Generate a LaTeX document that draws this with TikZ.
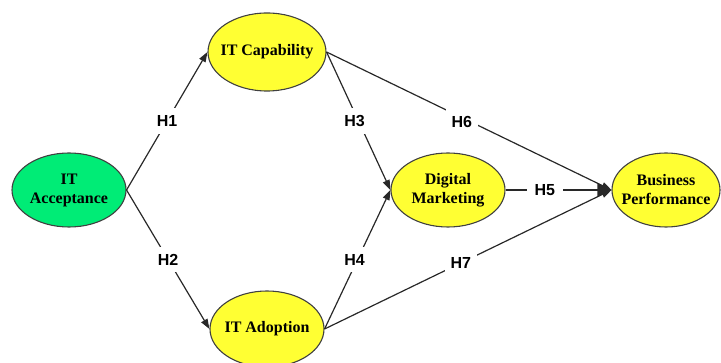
\documentclass[tikz,border=0pt]{standalone}
\usepackage{fontspec}
\setmainfont{Liberation Serif}
\setsansfont{Liberation Sans}
\usetikzlibrary{arrows.meta,shapes.geometric}
\definecolor{acceptgreen}{RGB}{0,236,118}
\definecolor{constructyellow}{RGB}{255,255,51}
\definecolor{edgegray}{RGB}{40,40,40}
\begin{document}
\begin{tikzpicture}[x=1pt,y=-1pt,
  construct/.style={ellipse, draw=black!75, line width=1.1pt, fill=constructyellow,
    font=\bfseries\fontsize{16}{19}\selectfont, align=center,
    inner xsep=-30pt, inner ysep=0pt},
  link/.style={draw=edgegray, line width=1.2pt,
    -{Triangle[length=10pt,width=7pt]}},
  biglink/.style={draw=edgegray, line width=1.2pt,
    -{Triangle[length=14pt,width=14pt]}},
  hyp/.style={fill=white, inner xsep=6pt, inner ysep=7pt,
    font=\sffamily\bfseries\fontsize{16}{19}\selectfont}
]
\useasboundingbox (0,0) rectangle (721,363);

% constructs
\node[construct, fill=acceptgreen, minimum width=114pt, minimum height=74pt]
  (acc) at (69,190) {IT\\Acceptance};
\node[construct, minimum width=118pt, minimum height=78pt]
  (cap) at (267,52) {IT Capability};
\node[construct, minimum width=114pt, minimum height=76pt]
  (adp) at (267,329) {IT Adoption};
\node[construct, minimum width=114pt, minimum height=74pt]
  (dm) at (448,190) {Digital\\Marketing};
\node[construct, minimum width=108pt, minimum height=74pt]
  (bp) at (666,190) {Business\\Performance};

% hypothesised paths
\draw[link] (acc.east) -- node[hyp] {H1} (cap.west);
\draw[link] (acc.east) -- node[hyp] {H2} (adp.west);
\draw[link] (cap.east) -- node[hyp, xshift=-4pt] {H3} (dm.west);
\draw[link] (adp.east) -- node[hyp, xshift=-3pt] {H4} (dm.west);
\draw[link] (cap.east) -- node[hyp, pos=0.475, yshift=-4pt] {H6} (bp.west);
\draw[link] (adp.east) -- node[hyp, pos=0.475] {H7} (bp.west);
\draw[biglink] (dm.east) -- node[hyp, pos=0.37, inner xsep=8pt] {H5} (bp.west);
\end{tikzpicture}
\end{document}
